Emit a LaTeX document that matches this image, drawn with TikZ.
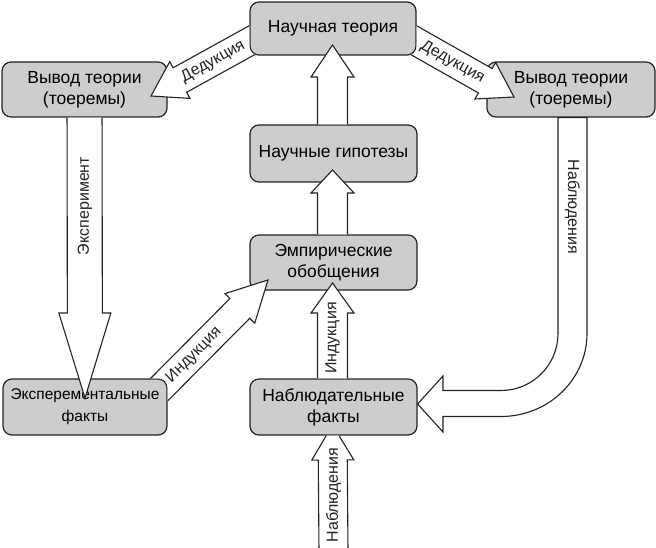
\documentclass[tikz,border=0pt]{standalone}
\usepackage{fontspec}
\setmainfont{Liberation Sans}
\usetikzlibrary{calc}
\definecolor{boxgray}{RGB}{205,205,205}
\definecolor{ink}{RGB}{35,35,35}
\tikzset{
 box/.style={draw=ink, line width=1.2pt, fill=boxgray, rounded corners=9pt, align=center, inner sep=2pt, font=\fontsize{17.5}{21}\selectfont},
 fat/.style={draw=ink, line width=1.1pt, fill=white, line join=miter},
 lbl/.style={font=\fontsize{16}{19}\selectfont, inner sep=0pt, text=ink},
}
\newcommand\fatarrow[6]{%
 \path let \p1=(#1), \p2=(#2), \n1={atan2(\y2-\y1,\x2-\x1)}, \n2={veclen(\x2-\x1,\y2-\y1)} in
   \pgfextra{\pgfmathsetmacro\faang{\n1}\pgfmathsetmacro\falen{\n2}\global\let\faang\faang\global\let\falen\falen};
 \begin{scope}
  \clip (-20,-20) -- (680,-20) -- (680,570) -- (-20,570) -- cycle
     {[rounded corners=9pt] (#6.north west) -- (#6.south west) -- (#6.south east) -- (#6.north east) -- cycle};
  \begin{scope}[shift={(#1)},rotate=\faang]
   \draw[fat] (0,-#3) -- ({\falen-#5},-#3) -- ({\falen-#5},-#4) -- (\falen,0) -- ({\falen-#5},#4) -- ({\falen-#5},#3) -- (0,#3) -- cycle;
  \end{scope}
 \end{scope}}
\begin{document}
\begin{tikzpicture}[x=1pt,y=-1pt]
\useasboundingbox (0,0) rectangle (656,548);
% boxes
\node[box, minimum width=166, minimum height=53] (nt) at (333,28.5) {Научная теория};
\node[box, minimum width=165, minimum height=55] (lv) at (84.5,89.5) {Вывод теории\\(тоеремы)};
\node[box, minimum width=168, minimum height=55] (rv) at (571,89.5) {Вывод теории\\(тоеремы)};
\node[box, minimum width=167, minimum height=57] (ng) at (333.5,153.5) {Научные гипотезы};
\node[box, minimum width=167, minimum height=55] (eo) at (333.5,262.5) {Эмпирические\\обобщения};
\node[box, minimum width=164, minimum height=56, font=\fontsize{15.5}{22}\selectfont] (ef) at (85,407) {Эксперементальные\\факты};
\node[box, minimum width=167, minimum height=56] (nf) at (333.5,407) {Наблюдательные\\факты};
% arrow end points
\coordinate (d1s) at (265,33);   \coordinate (d1e) at (151,96);
\coordinate (d2s) at (401,33);   \coordinate (d2e) at (514,97);
\coordinate (exs) at (84.5,95);  \coordinate (exe) at (85,398);
\coordinate (ids) at (136,413);  \coordinate (ide) at (268,280);
\coordinate (ivs) at (332.5,400);\coordinate (ive) at (332.5,283);
\coordinate (egs) at (332.5,250);\coordinate (ege) at (332.5,170);
\coordinate (gts) at (332.5,140);\coordinate (gte) at (332.5,45);
\coordinate (bot) at (333.5,552);\coordinate (nbe) at (332.5,425);
% fat arrows
\fatarrow{d1s}{d1e}{14}{21}{33}{nt}
\fatarrow{d2s}{d2e}{14}{21}{33}{nt}
\fatarrow{exs}{exe}{17.5}{26}{85}{lv}
\fatarrow{ids}{ide}{14}{21}{40}{ef}
\fatarrow{ivs}{ive}{15}{21.5}{30}{nf}
\fatarrow{egs}{ege}{15}{21.5}{23}{eo}
\fatarrow{gts}{gte}{15}{21.5}{32}{ng}
\fatarrow{bot}{nbe}{14.5}{21}{35}{nf}
% curved arrow from right conclusion to observational facts
\draw[fat] (rv.south -| 587,0) -- (587,333.5) arc[start angle=0,end angle=90,x radius=86,y radius=83]
  -- (443,416.5) -- (443,432) -- (nf.east |- 0,404) -- (443,376) -- (443,390.5) -- (501,390.5)
  arc[start angle=90,end angle=0,radius=57] -- (rv.south -| 558,0) -- cycle;
% labels
\node[lbl, rotate=28.9] at ($(d1s)!0.456!(d1e)$) {Дедукция};
\node[lbl, rotate=-29.5] at ($(d2s)!0.456!(d2e)$) {Дедукция};
\node[lbl, rotate=90] at (85,206) {Эксперимент};
\node[lbl, rotate=45.3] at (194,355) {Индукция};
\node[lbl, rotate=90] at (332.5,338) {Индукция};
\node[lbl, rotate=90] at (333.5,495) {Наблюдения};
\node[lbl, rotate=-90] at (572.5,207) {Наблюдения};
\end{tikzpicture}
\end{document}
